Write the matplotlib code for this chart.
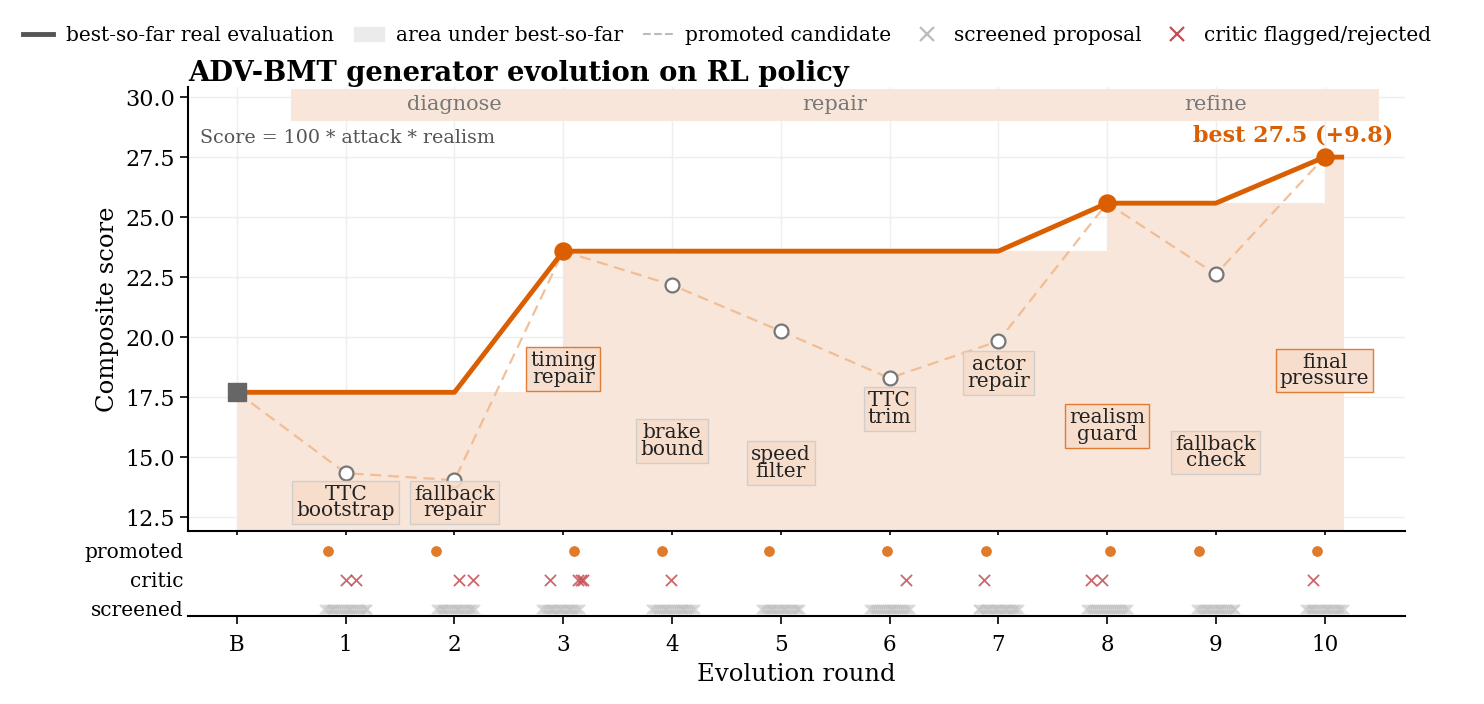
import numpy as np
import matplotlib.pyplot as plt
from matplotlib.lines import Line2D
from matplotlib.patches import Patch

plt.rcParams['font.family'] = ['DejaVu Serif']

#%% data
rounds = np.arange(0, 11)
tick_labels = ['B', '1', '2', '3', '4', '5', '6', '7', '8', '9', '10']
baseline = 17.7
promoted_score = [17.7, 14.33, 14.04, 23.58, 22.17, 20.25, 18.29, 19.83, 25.58, 22.62, 27.5]
best_so_far = [17.7, 17.7, 17.7, 23.58, 23.58, 23.58, 23.58, 23.58, 25.58, 25.58, 27.5]
improved = [3, 8, 10]
step_names = ['TTC\nbootstrap', 'fallback\nrepair', 'timing\nrepair', 'brake\nbound',
              'speed\nfilter', 'TTC\ntrim', 'actor\nrepair', 'realism\nguard',
              'fallback\ncheck', 'final\npressure']
phases = ['diagnose', 'repair', 'refine']
phase_edges = [0.5, 3.5, 7.5, 10.5]

# strip panel: where the promoted / critic marks sit
promoted_x = [0.84, 1.83, 3.10, 3.91, 4.89, 5.98, 6.89, 8.03, 8.85, 9.93]
critic_x = [1.00, 1.09, 2.04, 2.17, 2.88, 3.14, 3.16, 3.18, 3.99,
            6.15, 6.87, 7.85, 7.95, 9.89]
screened_n = [24, 22, 22, 24, 22, 22, 24, 22, 22, 22]
screened_lo = [0.80, 1.83, 2.80, 3.81, 4.82, 5.81, 6.81, 7.81, 8.82, 9.82]
screened_hi = [1.20, 2.19, 3.15, 4.21, 5.18, 6.19, 7.19, 8.19, 9.18, 10.18]

# label placement (layout)
label_y = [13.1, 13.1, 18.67, 15.67, 14.75, 17.0, 18.5, 16.3, 15.2, 18.62]

orange = '#d95f02'
fill_c = '#f9e6da'

#%% figure
fig = plt.figure(figsize=(14.84, 7.04), dpi=100)
ax = fig.add_axes([0.1267, 0.2457, 0.8201, 0.6307])
axs = fig.add_axes([0.1267, 0.125, 0.8201, 0.115], sharex=ax)

# phase bands
for i, name in enumerate(phases):
    ax.fill_between([phase_edges[i], phase_edges[i + 1]], 29.0, 30.35,
                    color=fill_c, lw=0, zorder=1)
    ax.text((phase_edges[i] + phase_edges[i + 1]) / 2, 29.7, name,
            ha='center', va='center', fontsize=15, color='#777777', zorder=2)

# area under best-so-far (stepped)
x_ext = list(rounds) + [10.18]
b_ext = best_so_far + [best_so_far[-1]]
ax.fill_between(x_ext, 0, b_ext, step='post', color=fill_c, lw=0, zorder=1)

# promoted candidates
ax.plot(rounds, promoted_score, ls='--', color='#f0b98e', lw=1.6, alpha=0.9,
        dashes=(5, 3), zorder=3)
ax.scatter(rounds[1:], promoted_score[1:], s=100, facecolor='white',
           edgecolor='#777777', lw=1.6, zorder=5)

# best-so-far line
ax.plot(x_ext, b_ext, color=orange, lw=3.5, zorder=4, solid_capstyle='butt')
ax.scatter([r for r in improved], [best_so_far[r] for r in improved],
           s=150, color=orange, zorder=6)
ax.scatter([0], [baseline], marker='s', s=150, color='#666666', zorder=6)

# step labels
for r, name, ly in zip(rounds[1:], step_names, label_y):
    ec = '#e07020' if r in improved else '#cccccc'
    ax.text(r, ly, name, ha='center', va='center', fontsize=14.5,
            color='#222222', linespacing=0.82, zorder=7,
            bbox=dict(boxstyle='square,pad=0.2', fc='#f6dccb', ec=ec,
                      lw=1.0, alpha=0.9))

ax.text(0.01, 0.885, 'Score = 100 * attack * realism', transform=ax.transAxes,
        fontsize=13.7, color='#555555', ha='left', va='center')
gain = best_so_far[-1] - baseline
ax.text(10.63, 27.95, f'best {best_so_far[-1]:.1f} (+{gain:.1f})',
        ha='right', va='bottom', fontsize=16, fontweight='bold', color=orange)

ax.set_xlim(-0.45, 10.74)
ax.set_ylim(11.92, 30.42)
ax.set_yticks([12.5, 15.0, 17.5, 20.0, 22.5, 25.0, 27.5, 30.0])
ax.yaxis.set_major_formatter(plt.FormatStrFormatter('%.1f'))
ax.set_xticks(rounds)
ax.tick_params(axis='x', labelbottom=False, length=6, width=1.2)
ax.tick_params(axis='y', labelsize=16, length=6, width=1.2)
ax.grid(True, color='#eeeeee', lw=1.0, zorder=0)
ax.set_axisbelow(True)
for s in ['top', 'right']:
    ax.spines[s].set_visible(False)
for s in ['left', 'bottom']:
    ax.spines[s].set_linewidth(1.5)
ax.set_ylabel('Composite score', fontsize=17.5)
ax.set_title('ADV-BMT generator evolution on RL policy', loc='left',
             fontsize=19.7, fontweight='bold', pad=2)

# strip panel
axs.scatter(promoted_x, [2] * len(promoted_x), s=45, color='#e07b2a', zorder=3)
axs.scatter(critic_x, [1] * len(critic_x), marker='x', s=65, color='#c44e52',
            alpha=0.85, lw=1.3, zorder=3)
for lo, hi, n in zip(screened_lo, screened_hi, screened_n):
    xs = np.linspace(lo, hi, n)
    axs.scatter(xs, [0] * n, marker='x', s=45, color='#bbbbbb', alpha=0.5,
                lw=1.3, zorder=3)
axs.set_ylim(-0.25, 2.55)
axs.set_yticks([2, 1, 0])
axs.set_yticklabels(['promoted', 'critic', 'screened'])
axs.tick_params(axis='y', length=0, labelsize=14.5)
axs.tick_params(axis='x', labelsize=15.5, length=6, width=1.2, pad=7)
axs.set_xticks(rounds)
axs.set_xticklabels(tick_labels)
for s in ['top', 'right', 'left']:
    axs.spines[s].set_visible(False)
axs.spines['bottom'].set_linewidth(1.5)
axs.set_xlabel('Evolution round', fontsize=17.5, labelpad=5)

# legend
handles = [
    Line2D([], [], color='#555555', lw=3.5),
    Patch(color='#ebebeb'),
    Line2D([], [], color='#bbbbbb', lw=1.5, ls='--'),
    Line2D([], [], color='#bbbbbb', marker='x', ls='', ms=10, mew=1.6),
    Line2D([], [], color='#c44e52', marker='x', ls='', ms=10, mew=1.6),
]
labels = ['best-so-far real evaluation', 'area under best-so-far',
          'promoted candidate', 'screened proposal', 'critic flagged/rejected']
fig.legend(handles, labels, loc='center', bbox_to_anchor=(0.49, 0.95), ncol=5,
           frameon=False, fontsize=14.5, handlelength=1.5, columnspacing=1.0,
           handletextpad=0.6)

fig.savefig('out.png', dpi=100)
